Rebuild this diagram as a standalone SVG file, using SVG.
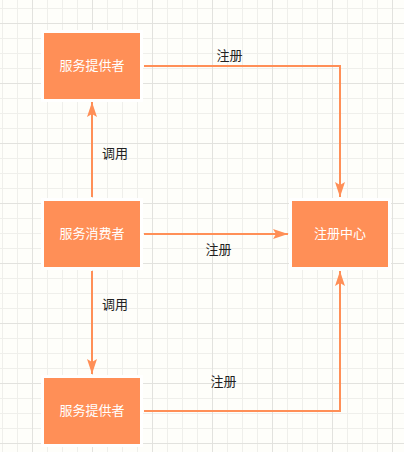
<svg xmlns="http://www.w3.org/2000/svg" width="404" height="452" viewBox="0 0 404 452">
  <style>
    .halo { fill: #ffffff; }
    .box { fill: #ff8f57; }
    .ntext { fill: #ffffff; font-family: "Liberation Sans", "Noto Sans CJK SC", sans-serif; font-size: 13px; text-anchor: middle; dominant-baseline: central; }
    .ltext { fill: #222222; font-family: "Liberation Sans", "Noto Sans CJK SC", sans-serif; font-size: 13px; text-anchor: middle; dominant-baseline: central; }
    .edge { fill: none; stroke: #ff8f57; stroke-width: 2; marker-end: url(#arrow); }
  </style>
  <defs>
    <pattern id="minor" patternUnits="userSpaceOnUse" x="2" y="8" width="15" height="15">
      <path d="M0.5,0 V15 M0,0.5 H15" stroke="#efefeb" stroke-width="1" fill="none"/>
    </pattern>
    <pattern id="major" patternUnits="userSpaceOnUse" x="32" y="23" width="60" height="60">
      <path d="M0.5,0 V60 M0,0.5 H60" stroke="#e2e2de" stroke-width="1" fill="none"/>
    </pattern>
    <marker id="arrow" markerUnits="userSpaceOnUse" viewBox="0 0 15 10" markerWidth="15" markerHeight="10" refX="15" refY="5" orient="auto">
      <path d="M0,0 L15,5 L0,10 L3,5 Z" fill="#ff8f57"/>
    </marker>
  </defs>
  <rect width="404" height="452" fill="#fefefa"/>
  <rect width="404" height="452" fill="url(#minor)"/>
  <rect width="404" height="452" fill="url(#major)"/>

  <g id="connectors">
    <path class="edge" d="M92,197 L92,102"/>
    <path class="edge" d="M92,271 L92,374"/>
    <path class="edge" d="M144,66 L340,66 L340,197"/>
    <path class="edge" d="M144,234 L288,234"/>
    <path class="edge" d="M144,411 L340,411 L340,271"/>
    <text class="ltext" x="229.5" y="55.5">注册</text>
    <text class="ltext" x="218.5" y="249.5">注册</text>
    <text class="ltext" x="223.5" y="381">注册</text>
    <text class="ltext" x="115" y="153.5">调用</text>
    <text class="ltext" x="115" y="304">调用</text>
  </g>

  <g id="provider-top">
    <rect class="halo" x="41" y="30" width="102" height="72"/>
    <rect class="box" x="44" y="33" width="96" height="66"/>
    <text class="ntext" x="92" y="65">服务提供者</text>
  </g>
  <g id="consumer">
    <rect class="halo" x="41" y="198" width="102" height="72"/>
    <rect class="box" x="44" y="201" width="96" height="66"/>
    <text class="ntext" x="92" y="233">服务消费者</text>
  </g>
  <g id="provider-bottom">
    <rect class="halo" x="41" y="375" width="102" height="72"/>
    <rect class="box" x="44" y="378" width="96" height="66"/>
    <text class="ntext" x="92" y="410">服务提供者</text>
  </g>
  <g id="registry">
    <rect class="halo" x="289" y="198" width="102" height="72"/>
    <rect class="box" x="292" y="201" width="96" height="66"/>
    <text class="ntext" x="340" y="233">注册中心</text>
  </g>
</svg>
